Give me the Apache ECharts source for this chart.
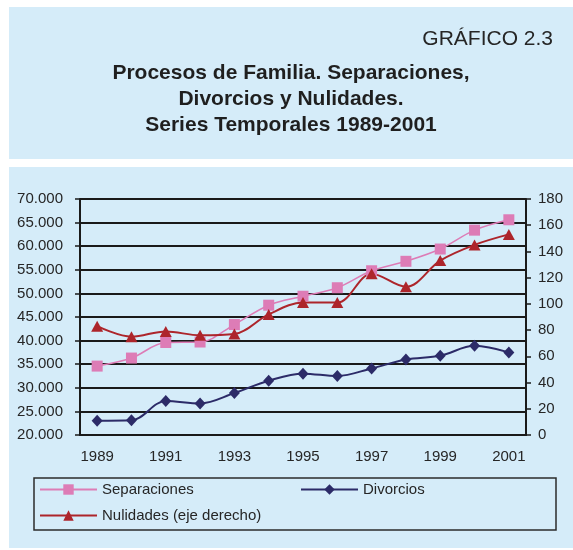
<!DOCTYPE html>
<html>
<head>
<meta charset="utf-8">
<script src="https://cdn.jsdelivr.net/npm/echarts@6/dist/echarts.min.js"></script>
<style>
  html, body { margin: 0; padding: 0; background: #fff; }
  #chart { width: 573px; height: 550px; }
</style>
</head>
<body>
<div id="chart"></div>
<script>
// datos
const years = ['1989', '1990', '1991', '1992', '1993', '1994', '1995', '1996', '1997', '1998', '1999', '2000', '2001']
const separaciones = [34600, 36300, 39600, 39700, 43400, 47500, 49400, 51200, 54800, 56800, 59400, 63400, 65600]
const divorcios = [23000, 23100, 27200, 26700, 28900, 31500, 33000, 32500, 34100, 36000, 36800, 38900, 37500]
const nulidades = [83, 75, 79, 76, 77, 92, 101, 101, 123, 113, 133, 145, 153]

const font = 'Liberation Sans, Arial, sans-serif'
const ink = '#262626'
const panel = '#d5ecf9'

// 1. instancia
const myChart = echarts.init(document.getElementById('chart'))

// miles con punto: 70000 -> 70.000
const miles = v => String(v).replace(/\B(?=(\d{3})+(?!\d))/g, '.')

const legendText = { fontFamily: font, fontSize: 15, color: ink }
const legendBase = {
  orient: 'horizontal', padding: 0, itemWidth: 57, itemHeight: 13, itemGap: 0,
  textStyle: legendText, selectedMode: false
}

// 2. opciones
const option = {
  animation: false,
  backgroundColor: '#fff',
  graphic: [
    { type: 'rect', z: -10, shape: { x: 9, y: 7, width: 564, height: 152 }, style: { fill: panel } },
    { type: 'rect', z: -10, shape: { x: 9, y: 167, width: 564, height: 381 }, style: { fill: panel } },
    {
      type: 'text', x: 553, y: 39,
      style: { text: 'GRÁFICO 2.3', font: '21px ' + font, fill: ink, textAlign: 'right', textVerticalAlign: 'middle' }
    },
    {
      type: 'text', x: 291, y: 60,
      style: {
        text: 'Procesos de Familia. Separaciones,\nDivorcios y Nulidades.\nSeries Temporales 1989-2001',
        font: 'bold 21px ' + font, fill: '#1f1f1f', textAlign: 'center', lineHeight: 26
      }
    },
    // marco de la leyenda
    {
      type: 'rect', z: 1, shape: { x: 34, y: 478, width: 522, height: 52 },
      style: { fill: 'none', stroke: '#2b2b2b', lineWidth: 1.5 }
    }
  ],
  legend: [
    Object.assign({}, legendBase, { left: 39, top: 482, data: ['Separaciones'] }),
    Object.assign({}, legendBase, { left: 300, top: 482, data: ['Divorcios'] }),
    Object.assign({}, legendBase, { left: 39, top: 508, data: ['Nulidades (eje derecho)'] })
  ],
  grid: { left: 80, right: 47, top: 199, bottom: 115, containLabel: false },
  xAxis: {
    type: 'category',
    data: years,
    boundaryGap: true,
    axisLine: { lineStyle: { color: '#1a1a1a', width: 2 } },
    axisTick: { interval: 0, length: 5, lineStyle: { color: '#1a1a1a', width: 1.5 } },
    axisLabel: { interval: 1, margin: 14, fontFamily: font, fontSize: 15, color: ink }
  },
  yAxis: [
    {
      type: 'value', min: 20000, max: 70000, interval: 5000,
      axisLine: { show: true, lineStyle: { color: '#1a1a1a', width: 2 } },
      axisTick: { show: true, length: 5, lineStyle: { color: '#1a1a1a', width: 1.5 } },
      axisLabel: { margin: 17, fontFamily: font, fontSize: 15, color: ink, formatter: miles },
      splitLine: { show: true, lineStyle: { color: '#1a1a1a', width: 2 } }
    },
    {
      type: 'value', min: 0, max: 180, interval: 20, position: 'right',
      axisLine: { show: true, lineStyle: { color: '#1a1a1a', width: 2 } },
      axisTick: { show: true, length: 5, lineStyle: { color: '#1a1a1a', width: 1.5 } },
      axisLabel: { margin: 12, fontFamily: font, fontSize: 15, color: ink },
      splitLine: { show: false }
    }
  ],
  series: [
    {
      name: 'Separaciones', type: 'line', data: separaciones, smooth: 0.35,
      symbol: 'rect', symbolSize: 11,
      itemStyle: { color: '#dd7cb6' }, lineStyle: { color: '#dd7cb6', width: 1.5 }
    },
    {
      name: 'Divorcios', type: 'line', data: divorcios, smooth: 0.35,
      symbol: 'diamond', symbolSize: [11, 12],
      itemStyle: { color: '#2c2b68' }, lineStyle: { color: '#2c2b68', width: 2 }
    },
    {
      name: 'Nulidades (eje derecho)', type: 'line', yAxisIndex: 1, data: nulidades, smooth: 0.35,
      symbol: 'triangle', symbolSize: [12, 11],
      itemStyle: { color: '#ad252b' }, lineStyle: { color: '#ad252b', width: 2 }
    }
  ]
}

// 3. render
myChart.setOption(option)
</script>
</body>
</html>
